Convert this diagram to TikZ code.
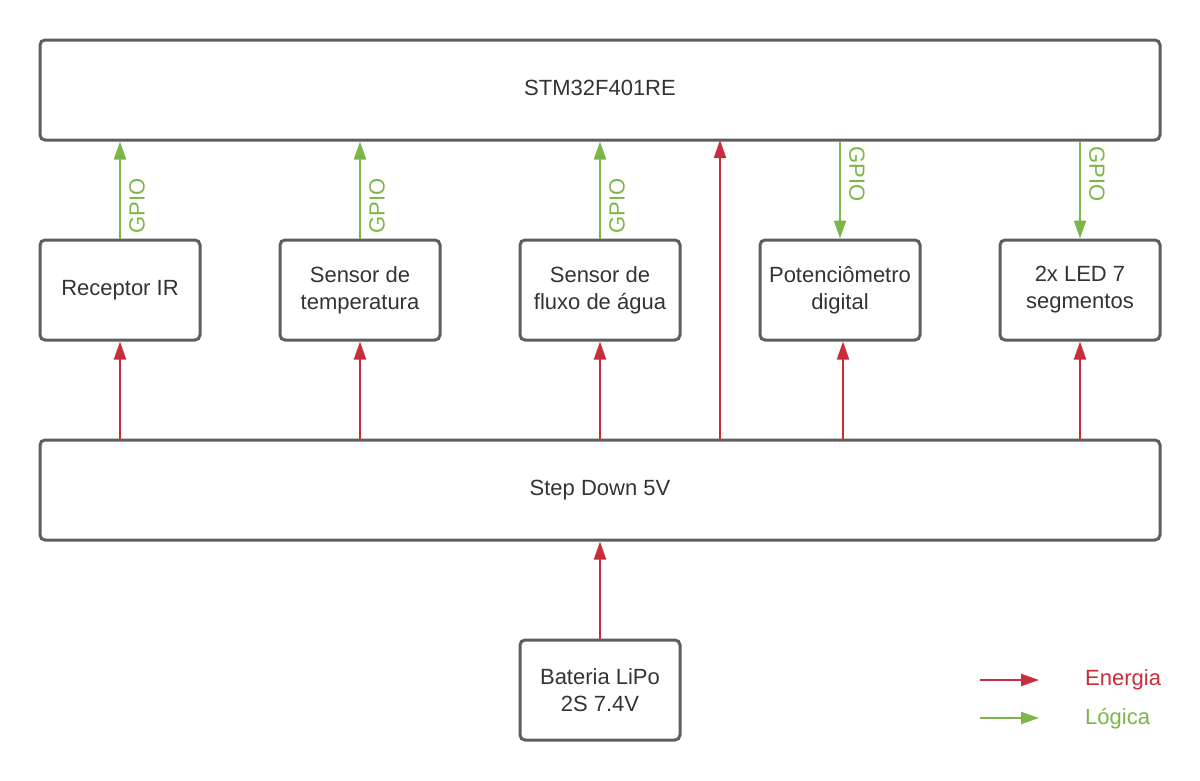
\documentclass[tikz,border=0pt]{standalone}
\usepackage{fontspec}
\setmainfont{Liberation Sans}
\usetikzlibrary{arrows.meta}
\definecolor{boxline}{HTML}{5E5E5E}
\definecolor{txt}{HTML}{333333}
\definecolor{pwr}{HTML}{C92D39}
\definecolor{lgc}{HTML}{7AB648}
\begin{document}
\begin{tikzpicture}[x=1pt,y=-1pt,
  blk/.style={draw=boxline,line width=3pt,rounded corners=5pt,inner sep=0pt,text=txt,align=center,font=\fontsize{22}{27}\selectfont},
  pline/.style={draw=pwr,line width=2pt,-{Triangle[length=18pt,width=12pt]}},
  lline/.style={draw=lgc,line width=2pt,-{Triangle[length=18pt,width=12pt]}},
  gpio/.style={text=lgc,font=\fontsize{22}{24}\selectfont,inner sep=0pt,anchor=center},
  leg/.style={font=\fontsize{22}{24}\selectfont,anchor=west,inner sep=0pt}]
\useasboundingbox (0,0) rectangle (1200,780);
\node[blk,minimum width=1120pt,minimum height=100pt] (stm) at (600,90) {\raisebox{4pt}{STM32F401RE}};
\node[blk,minimum width=1120pt,minimum height=100pt] (sd) at (600,490) {\raisebox{3pt}{Step Down 5V}};
\node[blk,minimum width=160pt,minimum height=100pt] (bat) at (600,690) {Bateria LiPo\\2S 7.4V};
\node[blk,minimum width=160pt,minimum height=100pt] (ir) at (120,290) {\raisebox{3pt}{Receptor IR}};
\node[blk,minimum width=160pt,minimum height=100pt] (temp) at (360,290) {Sensor de\\temperatura};
\node[blk,minimum width=160pt,minimum height=100pt] (flux) at (600,290) {Sensor de\\fluxo de água};
\node[blk,minimum width=160pt,minimum height=100pt] (pot) at (840,290) {Potenciômetro\\digital};
\node[blk,minimum width=160pt,minimum height=100pt] (led) at (1080,290) {2x LED 7\\segmentos};
% logic arrows
\draw[lline] (ir.north) -- (ir.north |- stm.south);
\draw[lline] (temp.north) -- (temp.north |- stm.south);
\draw[lline] (flux.north) -- (flux.north |- stm.south);
\draw[lline] (pot.north |- stm.south) -- (pot.north);
\draw[lline] (led.north |- stm.south) -- (led.north);
\node[gpio,rotate=90] (g1) at (137,206) {GPIO};
\node[gpio,rotate=90] (g2) at (377,206) {GPIO};
\node[gpio,rotate=90] (g3) at (617,206) {GPIO};
\node[gpio,rotate=-90] (g4) at (857,174) {GPIO};
\node[gpio,rotate=-90] (g5) at (1097,174) {GPIO};
% power arrows
\draw[pline] (ir.south |- sd.north) -- (ir.south);
\draw[pline] (temp.south |- sd.north) -- (temp.south);
\draw[pline] (flux.south |- sd.north) -- (flux.south);
\coordinate (m1) at (720,440);
\coordinate (m2) at (720,140);
\draw[pline] (m1) -- (m2);
\draw[pline] ([xshift=3pt]pot.south |- sd.north) -- ([xshift=3pt]pot.south);
\draw[pline] (led.south |- sd.north) -- (led.south);
\draw[pline] (bat.north) -- (sd.south);
% legend
\coordinate (e1) at (980,680); \coordinate (e2) at (1039,680);
\coordinate (l1) at (980,718); \coordinate (l2) at (1039,718);
\draw[pline] (e1) -- (e2);
\draw[lline] (l1) -- (l2);
\node[leg,text=pwr] (le) at (1085,680) {Energia};
\node[leg,text=lgc] (ll) at (1085,719) {Lógica};
\end{tikzpicture}
\end{document}
